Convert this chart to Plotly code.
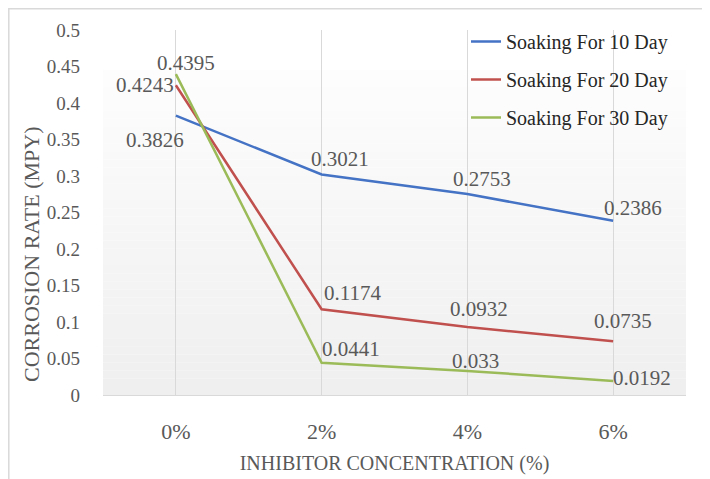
import plotly.graph_objects as go

categories = ["0%", "2%", "4%", "6%"]
day10 = [0.3826, 0.3021, 0.2753, 0.2386]
day20 = [0.4243, 0.1174, 0.0932, 0.0735]
day30 = [0.4395, 0.0441, 0.033, 0.0192]
series_names = ["Soaking For 10 Day", "Soaking For 20 Day", "Soaking For 30 Day"]
colors = ["#4472C4", "#C0504D", "#9BBB59"]
y_ticks = [0, 0.05, 0.1, 0.15, 0.2, 0.25, 0.3, 0.35, 0.4, 0.45, 0.5]

# label offsets in pixels (dx, dy) per series, per point
offsets = [
    [(-21, -24), (18, 15), (15, 15), (20, 13)],
    [(-31, 0), (31, 16), (12, 18), (10, 20)],
    [(10, 11), (29, 14), (8, 10), (29, 3)],
]

FONT = "Liberation Serif, Times New Roman, serif"
TXT = "#595959"

W, H = 702, 471
ML, MR, MT, MB = 95, 24, 22, 84
PW = W - ML - MR
PH = H - MT - MB

fig = go.Figure()

# gradient plot background (strips)
n = 40
top_frac = (PH - 40) / PH
for i in range(n):
    t = i / (n - 1)
    c0, c1 = 0xFD, 0xEF
    v = int(round(c0 + (c1 - c0) * t))
    col = f"rgb({v},{v},{v})"
    y1 = top_frac * (1 - i / n)
    y0 = top_frac * (1 - (i + 1) / n)
    fig.add_shape(type="rect", xref="paper", yref="paper", x0=0, x1=1, y0=y0, y1=y1,
                  fillcolor=col, line=dict(width=0), layer="below")

# outer chart border
fig.add_shape(type="rect", xref="paper", yref="paper",
              x0=(0.8 - ML) / PW, x1=(W + 20 - ML) / PW,
              y0=(PH + MT - (H + 20)) / PH, y1=(PH + MT - 0.8) / PH,
              line=dict(color="#d9d9d9", width=1.5), fillcolor="rgba(0,0,0,0)", layer="below")

all_series = [day10, day20, day30]
for name, vals, col in zip(series_names, all_series, colors):
    fig.add_trace(go.Scatter(x=categories, y=vals, mode="lines", name=name,
                             line=dict(color=col, width=2.5), legendgroup=name))

for vals, offs in zip(all_series, offsets):
    for cat, v, (dx, dy) in zip(categories, vals, offs):
        fig.add_annotation(x=cat, y=v, text=str(v), showarrow=False,
                           xshift=dx, yshift=dy,
                           font=dict(family=FONT, size=21, color=TXT))

# y-axis title (placed like the reference, slightly below centre)
fig.add_annotation(xref="paper", yref="paper", x=(23 - ML) / PW, y=(PH - 225) / PH,
                   text="CORROSION RATE (MPY)", textangle=-90, showarrow=False,
                   xanchor="center", yanchor="middle",
                   font=dict(family=FONT, size=22, color=TXT))

fig.update_layout(
    width=W, height=H,
    margin=dict(l=ML, r=MR, t=MT, b=MB, autoexpand=False),
    paper_bgcolor="white",
    plot_bgcolor="rgba(0,0,0,0)",
    font=dict(family=FONT, color=TXT),
    showlegend=True,
    legend=dict(x=(466 - 103) / PW, y=(PH + 8) / PH, xanchor="left", yanchor="top",
                font=dict(family=FONT, size=20, color="#262626"),
                bgcolor="rgba(0,0,0,0)", tracegroupgap=9, itemwidth=30),
    xaxis=dict(
        type="category", range=[-0.5, 3.5], automargin=False,
        showgrid=True, gridcolor="#d9d9d9", gridwidth=1,
        showline=True, linecolor="#d9d9d9", linewidth=1,
        ticks="", tickfont=dict(family=FONT, size=22, color=TXT),
        ticklabelstandoff=17,
        title=dict(text="INHIBITOR CONCENTRATION (%)", font=dict(family=FONT, size=20, color=TXT),
                   standoff=12),
        zeroline=False, fixedrange=True,
    ),
    yaxis=dict(
        range=[0, 0.5], tickvals=y_ticks, ticktext=[f"{t:g}" for t in y_ticks],
        automargin=False,
        showgrid=False, showline=False, zeroline=False, ticks="",
        tickfont=dict(family=FONT, size=19, color=TXT),
        ticklabelstandoff=22,
        fixedrange=True,
    ),
)

fig.write_html("out.html")
